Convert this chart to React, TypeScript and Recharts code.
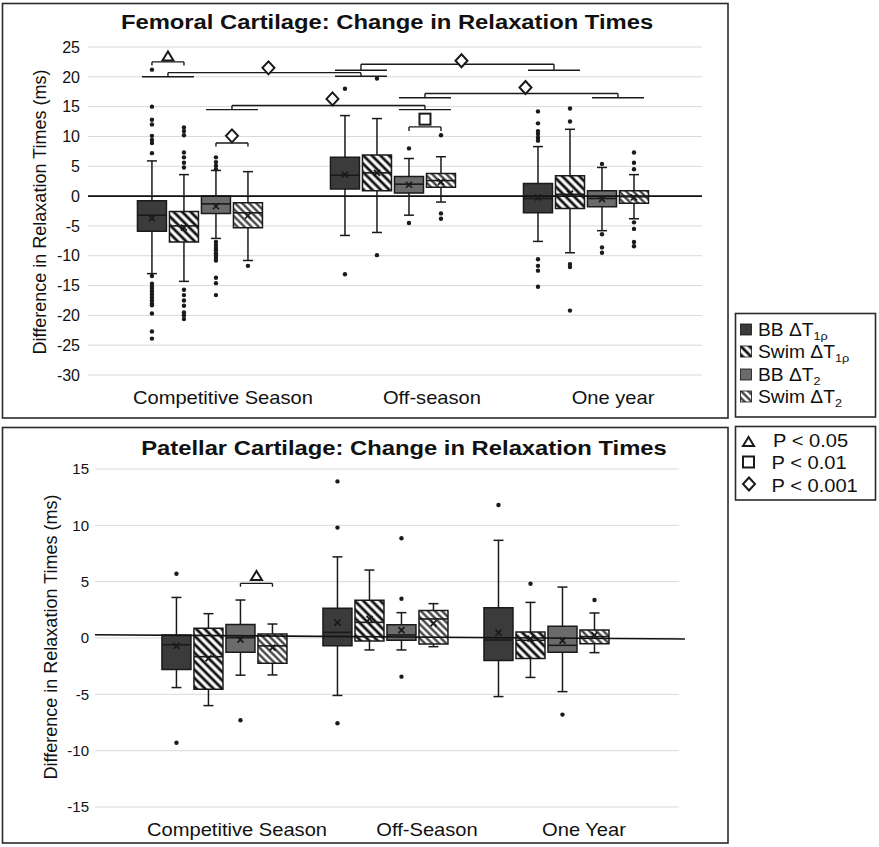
import React from "react";
import { ComposedChart, XAxis, YAxis, CartesianGrid, ReferenceArea, ReferenceLine, Scatter } from "recharts";

// ---------- Femoral cartilage (upper panel) ----------
const femSeasons = ["Competitive Season", "Off-season", "One year"];
const femTicks = [-30, -25, -20, -15, -10, -5, 0, 5, 10, 15, 20, 25];

// one row per season: [lower whisker, Q1, median, Q3, upper whisker]
const femBoxBBT1 = [
  [-13.0, -5.9, -3.2, -0.8, 5.9],
  [-6.6, 1.2, 3.5, 6.5, 13.5],
  [-7.6, -2.8, -0.4, 2.1, 8.3],
];
const femBoxSwimT1 = [
  [-14.3, -7.7, -5.0, -2.6, 3.6],
  [-6.1, 0.9, 3.9, 6.9, 13.0],
  [-9.5, -2.1, 0.3, 3.4, 11.2],
];
const femBoxBBT2 = [
  [-7.1, -2.9, -1.3, 0.0, 4.3],
  [-3.2, 0.5, 2.0, 3.3, 6.3],
  [-5.8, -1.8, -0.4, 0.9, 4.8],
];
const femBoxSwimT2 = [
  [-10.8, -5.3, -2.8, -1.1, 4.1],
  [-1.0, 1.5, 2.6, 3.8, 6.6],
  [-3.8, -1.2, -0.1, 0.9, 3.6],
];
const femMeans = [
  [-3.7, 3.6, -0.2],
  [-5.3, 3.9, 0.4],
  [-1.7, 1.9, -0.5],
  [-3.3, 2.4, -0.2],
];
const femOutBBT1 = [
  [21.2, 15.0, 12.8, 12.0, 10.1, 9.4, 8.9, 7.2, -13.4, -14.7, -15.2, -15.6, -16.0, -16.5, -17.0, -17.5, -18.0, -18.3, -19.7, -22.7, -23.9],
  [18.0, -13.1],
  [14.2, 12.2, 10.9, 10.4, 9.8, 9.3, -10.6, -11.7, -12.5, -15.2],
];
const femOutSwimT1 = [
  [11.5, 10.9, 10.2, 7.3, 6.5, 5.6, 4.8, -15.7, -16.6, -17.5, -18.4, -19.5, -20.0, -20.6],
  [19.7, -9.9],
  [14.7, 12.5, -11.4, -11.9, -19.2],
];
const femOutBBT2 = [
  [6.5, 5.7, 5.1, 4.5, -7.7, -8.2, -8.7, -9.1, -9.6, -10.0, -10.4, -10.8, -13.7, -14.6, -16.6],
  [8.0, -4.5],
  [5.4, -6.4, -8.6, -9.5],
];
const femOutSwimT2 = [
  [-11.7],
  [10.2, -2.9, -3.8],
  [7.3, 5.6, 4.5, -4.4, -5.5, -7.7, -8.4],
];
// within-season brackets: [season, series a, series b, bracket y, tick drop, marker, marker y]
const femPairs: [number, number, number, number, number, string, number][] = [
  [0, 0, 1, 22.5, 0.6, "tri", 23.4],
  [0, 2, 3, 8.9, 0.6, "dia", 10.1],
  [1, 2, 3, 11.6, 0.7, "sq", 12.9],
];
// across-season brackets: [pair (0 = ΔT1ρ, 1 = ΔT2), from season, to season, low left, low right, high, marker y]
const femSpans: [number, number, number, number, number, number, number][] = [
  [0, 0, 1, 20.0, 20.1, 20.7, 21.5],
  [0, 1, 2, 21.1, 21.1, 22.1, 22.7],
  [1, 0, 1, 14.5, 14.5, 15.2, 16.3],
  [1, 1, 2, 16.5, 16.5, 17.2, 18.2],
];

// ---------- Patellar cartilage (lower panel) ----------
const patSeasons = ["Competitive Season", "Off-Season", "One Year"];
const patTicks = [-15, -10, -5, 0, 5, 10, 15];

const patBoxBBT1 = [
  [-4.4, -2.8, -0.6, 0.27, 3.6],
  [-5.1, -0.68, 0.5, 2.63, 7.2],
  [-5.2, -2.0, -0.18, 2.69, 8.67],
];
const patBoxSwimT1 = [
  [-6.0, -4.55, -1.66, 0.86, 2.16],
  [-1.06, -0.27, 1.39, 3.34, 6.03],
  [-3.5, -1.83, -0.2, 0.53, 3.16],
];
const patBoxBBT2 = [
  [-3.3, -1.27, 0.03, 1.2, 3.37],
  [-1.06, -0.2, 0.27, 1.18, 2.25],
  [-4.76, -1.27, -0.65, 1.04, 4.52],
];
const patBoxSwimT2 = [
  [-3.28, -2.25, -0.7, 0.35, 1.24],
  [-0.77, -0.53, 1.69, 2.45, 3.05],
  [-1.3, -0.5, 0.12, 0.71, 2.22],
];
const patMeans = [
  [-0.7, 1.36, 0.47],
  [-1.8, 1.7, -0.05],
  [-0.15, 0.7, -0.23],
  [-0.85, 1.3, 0.25],
];
const patOutBBT1 = [[5.7, -9.3], [13.9, 9.8, -7.57], [11.8]];
const patOutSwimT1 = [[], [], [4.82]];
const patOutBBT2 = [[-7.3], [8.85, 3.49, -3.43], [-6.8]];
const patOutSwimT2 = [[], [], [3.37]];
const patPairs: [number, number, number, number, number, string, number][] = [
  [0, 2, 3, 4.85, 0.3, "tri", 5.5],
];
const patSpans: [number, number, number, number, number, number, number][] = [];
// linear trend across the panel: value at the left edge, value at its right end
const patTrend = [0.29, -0.09];

const FONT = "'Liberation Sans', Arial, Helvetica, sans-serif";
const INK = "#1a1a1a";

const Dot = (p: any) => <circle cx={p.cx} cy={p.cy} r={2.2} fill={INK} />;
const Cross = (p: any) => (
  <path
    d={`M${p.cx - 3},${p.cy - 3}L${p.cx + 3},${p.cy + 3}M${p.cx - 3},${p.cy + 3}L${p.cx + 3},${p.cy - 3}`}
    stroke={INK}
    strokeWidth={1.7}
  />
);

function SigMark({ kind, x, y }: { kind: string; x: number; y: number }) {
  if (kind === "tri")
    return <polygon points={`${x},${y - 5} ${x - 5.5},${y + 4} ${x + 5.5},${y + 4}`} fill="#fff" stroke={INK} strokeWidth={2} />;
  if (kind === "sq") return <rect x={x - 5.5} y={y - 5.5} width={11} height={11} fill="#fff" stroke={INK} strokeWidth={2} />;
  return <polygon points={`${x},${y - 6.5} ${x + 6},${y} ${x},${y + 6.5} ${x - 6},${y}`} fill="#fff" stroke={INK} strokeWidth={2} />;
}

function HatchDefs({ pid }: { pid: string }) {
  return (
    <defs>
      <pattern id={`${pid}-h1`} patternUnits="userSpaceOnUse" width={6} height={6} patternTransform="rotate(-45)">
        <rect width={6} height={6} fill="#fff" />
        <line x1={3} y1={0} x2={3} y2={6} stroke="#111" strokeWidth={2.8} />
      </pattern>
      <pattern id={`${pid}-h2`} patternUnits="userSpaceOnUse" width={5} height={5} patternTransform="rotate(-45)">
        <rect width={5} height={5} fill="#fff" />
        <line x1={2.5} y1={0} x2={2.5} y2={5} stroke="#333" strokeWidth={2.2} />
      </pattern>
    </defs>
  );
}

type PanelProps = {
  pid: string;
  top: number;
  width: number;
  height: number;
  margin: { top: number; right: number; bottom: number; left: number };
  groupPx: number;
  xDomain: [number, number];
  yDomain: [number, number];
  yTicks: number[];
  yTickSize: number;
  yTickMargin: number;
  seasons: string[];
  labelAt: number[];
  boxes: number[][][];
  means: number[][];
  outliers: number[][][];
  pairs: [number, number, number, number, number, string, number][];
  spans: [number, number, number, number, number, number, number][];
  trend: number[] | null;
  trendEnd?: number;
};

function BoxPanel(p: PanelProps) {
  const step = 32 / p.groupPx;
  const half = 14.5 / p.groupPx;
  const cap = 5 / p.groupPx;
  const pad = 10 / p.groupPx;
  const cx = (g: number, s: number) => g + 1 + (s - 1.5) * step;
  const fills = ["#3b3b3b", `url(#${p.pid}-h1)`, "#6b6b6b", `url(#${p.pid}-h2)`];

  const whiskers: number[][] = [];
  const medians: number[][] = [];
  const areas: { x1: number; x2: number; y1: number; y2: number; fill: string }[] = [];
  p.boxes.forEach((rows, s) =>
    rows.forEach(([lo, q1, med, q3, hi], g) => {
      const x = cx(g, s);
      whiskers.push([x, lo, x, q1], [x, q3, x, hi], [x - cap, lo, x + cap, lo], [x - cap, hi, x + cap, hi]);
      areas.push({ x1: x - half, x2: x + half, y1: q1, y2: q3, fill: fills[s] });
      medians.push([x - half, med, x + half, med]);
    })
  );

  const meanPts = p.means.flatMap((row, s) => row.map((m, g) => ({ x: cx(g, s), y: m })));
  const outPts = p.outliers.flatMap((rows, s) => rows.flatMap((vals, g) => vals.map((v) => ({ x: cx(g, s), y: v }))));

  const brackets: number[][] = [];
  const marks: { x: number; y: number; kind: string }[] = [];
  p.pairs.forEach(([g, a, b, y, drop, kind, my]) => {
    const xa = cx(g, a);
    const xb = cx(g, b);
    brackets.push([xa, y, xb, y], [xa, y, xa, y - drop], [xb, y, xb, y - drop]);
    marks.push({ x: (xa + xb) / 2, y: my, kind });
  });
  p.spans.forEach(([pair, g1, g2, lowL, lowR, high, my]) => {
    const a = pair * 2;
    const b = a + 1;
    const m1 = (cx(g1, a) + cx(g1, b)) / 2;
    const m2 = (cx(g2, a) + cx(g2, b)) / 2;
    brackets.push(
      [cx(g1, a) - pad, lowL, cx(g1, b) + pad, lowL],
      [cx(g2, a) - pad, lowR, cx(g2, b) + pad, lowR],
      [m1, lowL, m1, high],
      [m1, high, m2, high],
      [m2, high, m2, lowR]
    );
    marks.push({ x: (m1 + m2) / 2 + 4 / p.groupPx, y: my, kind: "dia" });
  });

  const seg = (q: number[], key: string, w = 1.5) => (
    <ReferenceLine
      key={key}
      segment={[
        { x: q[0], y: q[1] },
        { x: q[2], y: q[3] },
      ]}
      stroke={INK}
      strokeWidth={w}
    />
  );

  return (
    <div style={{ position: "absolute", left: 0, top: p.top }}>
      <ComposedChart width={p.width} height={p.height} margin={p.margin} style={{ overflow: "visible" }}>
        <HatchDefs pid={p.pid} />
        <CartesianGrid vertical={false} stroke="#d9d9d9" strokeWidth={1} />
        <XAxis
          type="number"
          dataKey="x"
          domain={p.xDomain}
          allowDataOverflow
          ticks={p.labelAt}
          interval={0}
          axisLine={false}
          tickLine={false}
          tickSize={6}
          tickMargin={11}
          height={30}
          tick={(t: any) => {
            const i = p.labelAt.indexOf(t.payload.value);
            return (
              <text
                transform={`translate(${t.x},${t.y}) scale(1.15,1)`}
                y={12.4}
                textAnchor="middle"
                fontFamily={FONT}
                fontSize={17.5}
                fill="#111"
              >
                {p.seasons[i]}
              </text>
            );
          }}
        />
        <YAxis
          type="number"
          dataKey="y"
          domain={p.yDomain}
          allowDataOverflow
          ticks={p.yTicks}
          interval={0}
          width={50}
          axisLine={false}
          tickLine={false}
          tickSize={6}
          tickMargin={p.yTickMargin}
          tick={(t: any) => (
            <text x={t.x} y={t.y} dy="0.36em" textAnchor="end" fontFamily={FONT} fontSize={p.yTickSize} fill="#111">
              {t.payload.value}
            </text>
          )}
        />
        {p.trend ? (
          <ReferenceLine
            segment={[
              { x: p.xDomain[0], y: p.trend[0] },
              { x: p.trendEnd ?? p.xDomain[1], y: p.trend[1] },
            ]}
            stroke="#111"
            strokeWidth={1.6}
            ifOverflow="visible"
          />
        ) : (
          <ReferenceLine y={0} stroke="#111" strokeWidth={1.6} />
        )}
        {whiskers.map((q, i) => seg(q, `w${i}`))}
        {areas.map((a, i) => (
          <ReferenceArea
            key={`b${i}`}
            x1={a.x1}
            x2={a.x2}
            y1={a.y1}
            y2={a.y2}
            fill={a.fill}
            fillOpacity={1}
            stroke={INK}
            strokeWidth={1.5}
          />
        ))}
        {medians.map((q, i) => seg(q, `m${i}`, 1.6))}
        {brackets.map((q, i) => seg(q, `k${i}`, 1.4))}
        <Scatter data={outPts} shape={Dot} isAnimationActive={false} />
        <Scatter data={meanPts} shape={Cross} isAnimationActive={false} />
        <Scatter
          data={marks}
          isAnimationActive={false}
          shape={(s: any) => <SigMark kind={s.payload.kind} x={s.cx} y={s.cy} />}
        />
      </ComposedChart>
    </div>
  );
}

function Overlay() {
  const legendRows = [
    { name: "BB \u0394T", sub: "1\u03c1", fill: "#3b3b3b" },
    { name: "Swim \u0394T", sub: "1\u03c1", fill: "url(#lg-h1)" },
    { name: "BB \u0394T", sub: "2", fill: "#6b6b6b" },
    { name: "Swim \u0394T", sub: "2", fill: "url(#lg-h2)" },
  ];
  const sigRows = ["P < 0.05", "P < 0.01", "P < 0.001"];
  const rowBase = [336, 358, 381, 403];
  const sigBase = [446.7, 469.3, 491.7];
  return (
    <svg width={879} height={847} style={{ position: "absolute", left: 0, top: 0, pointerEvents: "none" }}>
      <HatchDefs pid="lg" />
      <rect x={2.5} y={3.5} width={725.5} height={414.5} fill="none" stroke="#2a2a2a" strokeWidth={1.6} />
      <rect x={2.5} y={427.5} width={725.5} height={415.5} fill="none" stroke="#2a2a2a" strokeWidth={1.6} />
      <text transform="translate(387,29) scale(1.19,1)" textAnchor="middle" fontFamily={FONT} fontWeight="bold" fontSize={20} fill="#111">
        Femoral Cartilage: Change in Relaxation Times
      </text>
      <text transform="translate(404,455) scale(1.19,1)" textAnchor="middle" fontFamily={FONT} fontWeight="bold" fontSize={20} fill="#111">
        Patellar Cartilage: Change in Relaxation Times
      </text>
      <text transform="translate(46,212) rotate(-90)" textAnchor="middle" fontFamily={FONT} fontSize={18} fill="#111">
        Difference in Relaxation Times (ms)
      </text>
      <text transform="translate(57,637) rotate(-90)" textAnchor="middle" fontFamily={FONT} fontSize={18} fill="#111">
        Difference in Relaxation Times (ms)
      </text>

      <rect x={735.5} y={313.5} width={140} height={103.5} fill="#fff" stroke="#2a2a2a" strokeWidth={1.6} />
      {legendRows.map((r, i) => (
        <g key={r.name + r.sub + i}>
          <rect x={740.5} y={rowBase[i] - 12} width={11} height={11} fill={r.fill} stroke="#111" strokeWidth={0.8} />
          <text transform={`translate(758,${rowBase[i]}) scale(1.1,1)`} fontFamily={FONT} fontSize={17.5} fill="#111">
            {r.name}
            <tspan fontSize={11.5} dy={4}>
              {r.sub}
            </tspan>
          </text>
        </g>
      ))}

      <rect x={735.5} y={426.5} width={140} height={73.5} fill="#fff" stroke="#2a2a2a" strokeWidth={1.6} />
      <SigMark kind="tri" x={748.5} y={442} />
      <SigMark kind="sq" x={748.5} y={462} />
      <SigMark kind="dia" x={749} y={484} />
      {sigRows.map((t, i) => (
        <text key={t} transform={`translate(${i === 0 ? 773 : 771.5},${sigBase[i]}) scale(1.15,1)`} fontFamily={FONT} fontSize={17.5} fill="#111">
          {t}
        </text>
      ))}
    </svg>
  );
}

export default function App() {
  return (
    <div style={{ position: "absolute", left: 0, top: 0, width: 879, height: 847, background: "#fff", overflow: "hidden" }}>
      <BoxPanel
        pid="fem"
        top={0}
        width={730}
        height={420}
        margin={{ top: 47, right: 28, bottom: 15, left: 38 }}
        groupPx={193}
        xDomain={[0.42, 3.601]}
        yDomain={[-30, 25]}
        yTicks={femTicks}
        yTickSize={16}
        yTickMargin={2}
        seasons={femSeasons}
        labelAt={[1.119, 2.202, 3.14]}
        boxes={[femBoxBBT1, femBoxSwimT1, femBoxBBT2, femBoxSwimT2]}
        means={femMeans}
        outliers={[femOutBBT1, femOutSwimT1, femOutBBT2, femOutSwimT2]}
        pairs={femPairs}
        spans={femSpans}
        trend={null}
      />
      <BoxPanel
        pid="pat"
        top={420}
        width={730}
        height={427}
        margin={{ top: 49, right: 51, bottom: 10, left: 45 }}
        groupPx={161}
        xDomain={[0.196, 3.823]}
        yDomain={[-15, 15]}
        yTicks={patTicks}
        yTickSize={15}
        yTickMargin={0}
        seasons={patSeasons}
        labelAt={[1.078, 2.258, 3.233]}
        boxes={[patBoxBBT1, patBoxSwimT1, patBoxBBT2, patBoxSwimT2]}
        means={patMeans}
        outliers={[patOutBBT1, patOutSwimT1, patOutBBT2, patOutSwimT2]}
        pairs={patPairs}
        spans={patSpans}
        trend={patTrend}
        trendEnd={3.86}
      />
      <Overlay />
    </div>
  );
}
